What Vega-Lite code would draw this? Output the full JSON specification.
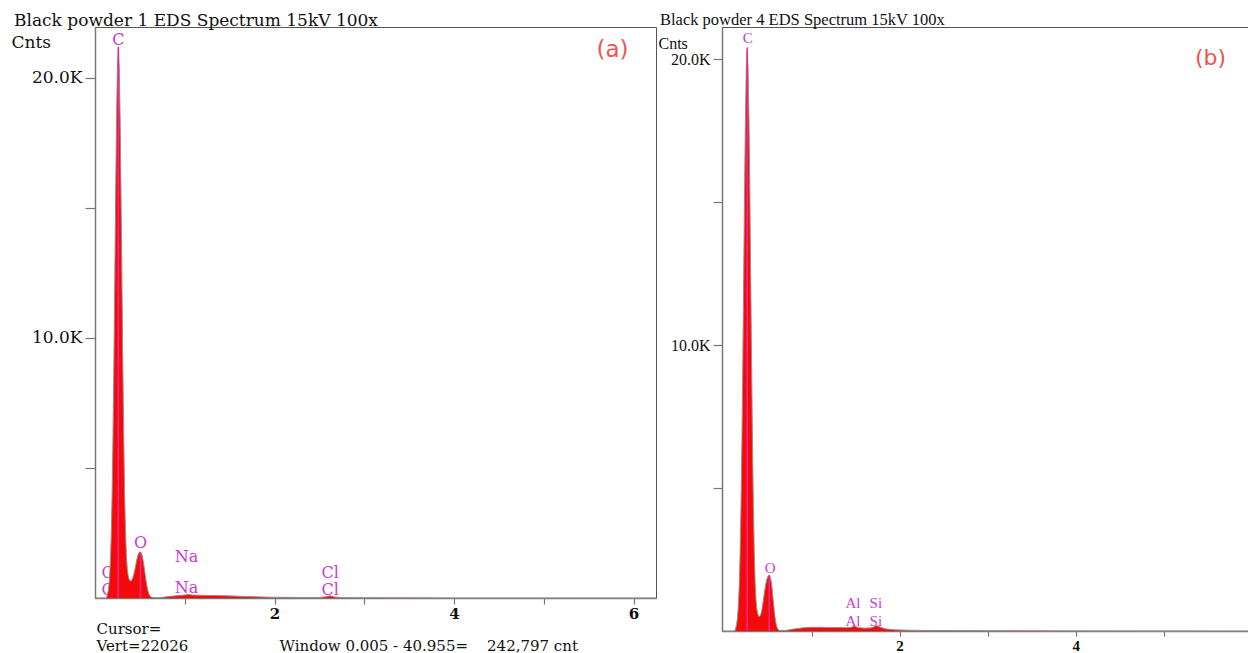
{
  "$schema": "https://vega.github.io/schema/vega-lite/v6.json",
  "background": "white",
  "padding": {"left": 10, "top": 11, "right": 0, "bottom": 0},
  "bounds": "flush",
  "spacing": 66,
  "config": {
    "view": {"stroke": "#555", "strokeWidth": 1},
    "axis": {"grid": false, "domainColor": "#777", "tickColor": "#777", "domainWidth": 1.5, "tickWidth": 1.2, "labelColor": "#111"}
  },
  "datasets": {
    "a": [
      {"energy": 0.0, "cnt": 0}, {"energy": 0.12, "cnt": 0}, {"energy": 0.13, "cnt": 30}, {"energy": 0.14, "cnt": 150},
      {"energy": 0.15, "cnt": 320}, {"energy": 0.16, "cnt": 660}, {"energy": 0.17, "cnt": 1280}, {"energy": 0.18, "cnt": 2300},
      {"energy": 0.19, "cnt": 3870}, {"energy": 0.2, "cnt": 6070}, {"energy": 0.21, "cnt": 8880}, {"energy": 0.22, "cnt": 12130},
      {"energy": 0.23, "cnt": 15450}, {"energy": 0.24, "cnt": 18370}, {"energy": 0.25, "cnt": 20380}, {"energy": 0.26, "cnt": 21100},
      {"energy": 0.27, "cnt": 20380}, {"energy": 0.28, "cnt": 18400}, {"energy": 0.29, "cnt": 15500}, {"energy": 0.3, "cnt": 12200},
      {"energy": 0.31, "cnt": 9000}, {"energy": 0.32, "cnt": 6200}, {"energy": 0.33, "cnt": 4000}, {"energy": 0.34, "cnt": 2550},
      {"energy": 0.35, "cnt": 1600}, {"energy": 0.36, "cnt": 1100}, {"energy": 0.37, "cnt": 850}, {"energy": 0.38, "cnt": 720},
      {"energy": 0.39, "cnt": 660}, {"energy": 0.4, "cnt": 650}, {"energy": 0.41, "cnt": 680}, {"energy": 0.42, "cnt": 760},
      {"energy": 0.43, "cnt": 880}, {"energy": 0.44, "cnt": 1020}, {"energy": 0.45, "cnt": 1190}, {"energy": 0.46, "cnt": 1370},
      {"energy": 0.47, "cnt": 1530}, {"energy": 0.48, "cnt": 1660}, {"energy": 0.49, "cnt": 1740}, {"energy": 0.5, "cnt": 1770},
      {"energy": 0.51, "cnt": 1760}, {"energy": 0.52, "cnt": 1690}, {"energy": 0.53, "cnt": 1560}, {"energy": 0.54, "cnt": 1370},
      {"energy": 0.55, "cnt": 1130}, {"energy": 0.56, "cnt": 880}, {"energy": 0.57, "cnt": 640}, {"energy": 0.58, "cnt": 430},
      {"energy": 0.59, "cnt": 270}, {"energy": 0.6, "cnt": 160}, {"energy": 0.61, "cnt": 90}, {"energy": 0.62, "cnt": 45},
      {"energy": 0.64, "cnt": 20}, {"energy": 0.7, "cnt": 10}, {"energy": 0.75, "cnt": 25}, {"energy": 0.8, "cnt": 45},
      {"energy": 0.85, "cnt": 65}, {"energy": 0.9, "cnt": 85}, {"energy": 0.95, "cnt": 100}, {"energy": 1.0, "cnt": 115},
      {"energy": 1.04, "cnt": 135}, {"energy": 1.08, "cnt": 115}, {"energy": 1.15, "cnt": 110}, {"energy": 1.25, "cnt": 100},
      {"energy": 1.35, "cnt": 95}, {"energy": 1.45, "cnt": 85}, {"energy": 1.55, "cnt": 75}, {"energy": 1.65, "cnt": 60},
      {"energy": 1.75, "cnt": 50}, {"energy": 1.85, "cnt": 40}, {"energy": 1.95, "cnt": 30}, {"energy": 2.1, "cnt": 25},
      {"energy": 2.3, "cnt": 20}, {"energy": 2.5, "cnt": 20}, {"energy": 2.57, "cnt": 45}, {"energy": 2.62, "cnt": 85},
      {"energy": 2.67, "cnt": 40}, {"energy": 2.75, "cnt": 15}, {"energy": 3.0, "cnt": 10}, {"energy": 3.5, "cnt": 5},
      {"energy": 4.0, "cnt": 3}, {"energy": 5.0, "cnt": 2}, {"energy": 6.25, "cnt": 0}
    ],
    "b": [
      {"energy": 0.0, "cnt": 0}, {"energy": 0.13, "cnt": 0}, {"energy": 0.14, "cnt": 100}, {"energy": 0.15, "cnt": 225},
      {"energy": 0.16, "cnt": 463}, {"energy": 0.17, "cnt": 890}, {"energy": 0.18, "cnt": 1615}, {"energy": 0.19, "cnt": 2750},
      {"energy": 0.2, "cnt": 4390}, {"energy": 0.21, "cnt": 6590}, {"energy": 0.22, "cnt": 9290}, {"energy": 0.23, "cnt": 12310},
      {"energy": 0.24, "cnt": 15320}, {"energy": 0.25, "cnt": 17910}, {"energy": 0.26, "cnt": 19680}, {"energy": 0.27, "cnt": 20300},
      {"energy": 0.28, "cnt": 19680}, {"energy": 0.29, "cnt": 17910}, {"energy": 0.3, "cnt": 15320}, {"energy": 0.31, "cnt": 12310},
      {"energy": 0.32, "cnt": 9290}, {"energy": 0.33, "cnt": 6590}, {"energy": 0.34, "cnt": 4390}, {"energy": 0.35, "cnt": 2800},
      {"energy": 0.36, "cnt": 1700}, {"energy": 0.37, "cnt": 1080}, {"energy": 0.38, "cnt": 760}, {"energy": 0.39, "cnt": 590},
      {"energy": 0.4, "cnt": 520}, {"energy": 0.41, "cnt": 500}, {"energy": 0.42, "cnt": 540}, {"energy": 0.43, "cnt": 640},
      {"energy": 0.44, "cnt": 800}, {"energy": 0.45, "cnt": 1000}, {"energy": 0.46, "cnt": 1220}, {"energy": 0.47, "cnt": 1430},
      {"energy": 0.48, "cnt": 1620}, {"energy": 0.49, "cnt": 1770}, {"energy": 0.5, "cnt": 1870}, {"energy": 0.51, "cnt": 1930},
      {"energy": 0.52, "cnt": 1950}, {"energy": 0.53, "cnt": 1900}, {"energy": 0.54, "cnt": 1780}, {"energy": 0.55, "cnt": 1560},
      {"energy": 0.56, "cnt": 1260}, {"energy": 0.57, "cnt": 930}, {"energy": 0.58, "cnt": 630}, {"energy": 0.59, "cnt": 390},
      {"energy": 0.6, "cnt": 220}, {"energy": 0.61, "cnt": 110}, {"energy": 0.62, "cnt": 50}, {"energy": 0.64, "cnt": 15},
      {"energy": 0.7, "cnt": 15}, {"energy": 0.75, "cnt": 40}, {"energy": 0.8, "cnt": 70}, {"energy": 0.85, "cnt": 90},
      {"energy": 0.9, "cnt": 110}, {"energy": 0.95, "cnt": 120}, {"energy": 1.0, "cnt": 130}, {"energy": 1.1, "cnt": 130},
      {"energy": 1.2, "cnt": 125}, {"energy": 1.3, "cnt": 120}, {"energy": 1.4, "cnt": 115}, {"energy": 1.45, "cnt": 130},
      {"energy": 1.49, "cnt": 170}, {"energy": 1.53, "cnt": 120}, {"energy": 1.6, "cnt": 100}, {"energy": 1.68, "cnt": 110},
      {"energy": 1.74, "cnt": 190}, {"energy": 1.8, "cnt": 110}, {"energy": 1.85, "cnt": 70}, {"energy": 1.95, "cnt": 40},
      {"energy": 2.1, "cnt": 25}, {"energy": 2.3, "cnt": 20}, {"energy": 2.6, "cnt": 15}, {"energy": 3.0, "cnt": 10},
      {"energy": 3.5, "cnt": 5}, {"energy": 4.5, "cnt": 3}, {"energy": 5.96, "cnt": 0}
    ],
    "la": [
      {"energy": 0.26, "cnt": 21460, "label": "C"},
      {"energy": 0.507, "cnt": 2120, "label": "O"},
      {"energy": 1.02, "cnt": 1580, "label": "Na"},
      {"energy": 1.02, "cnt": 380, "label": "Na"},
      {"energy": 2.62, "cnt": 960, "label": "Cl"},
      {"energy": 2.62, "cnt": 310, "label": "Cl"},
      {"energy": 0.17, "cnt": 960, "label": "Cl"},
      {"energy": 0.17, "cnt": 310, "label": "Cl"}
    ],
    "lb": [
      {"energy": 0.277, "cnt": 20730, "label": "C"},
      {"energy": 0.53, "cnt": 2200, "label": "O"},
      {"energy": 1.47, "cnt": 980, "label": "Al"},
      {"energy": 1.47, "cnt": 350, "label": "Al"},
      {"energy": 1.73, "cnt": 980, "label": "Si"},
      {"energy": 1.73, "cnt": 350, "label": "Si"}
    ],
    "ma": [{"energy": 0.26, "cnt": 21200, "base": 0}, {"energy": 0.507, "cnt": 1770, "base": 0}],
    "mb": [{"energy": 0.27, "cnt": 20400, "base": 0}, {"energy": 0.52, "cnt": 1950, "base": 0}],
    "na": [
      {"energy": 5.766, "cnt": 21080, "note": "(a)"}
    ],
    "nc": [
      {"energy": 0.017, "cnt": -1210, "note": "Cursor="},
      {"energy": 0.017, "cnt": -1840, "note": "Vert=22026"},
      {"energy": 2.056, "cnt": -1840, "note": "Window 0.005 - 40.955=\u00a0\u00a0\u00a0\u00a0242,797 cnt"}
    ],
    "nb": [
      {"energy": 5.53, "cnt": 20030, "note": "(b)"}
    ]
  },
  "hconcat": [
    {
      "width": 561,
      "height": 571,
      "title": {"text": "Black powder 1 EDS Spectrum 15kV 100x", "anchor": "start", "frame": "group", "dx": -81, "offset": -20, "baseline": "bottom", "font": "DejaVu Serif", "fontSize": 17, "fontWeight": "normal", "color": "#111"},
      "encoding": {
        "x": {"field": "energy", "type": "quantitative", "scale": {"domain": [0, 6.25], "nice": false, "zero": false},
          "axis": {"title": null, "values": [1, 2, 3, 4, 5, 6], "labelExpr": "datum.value % 2 == 0 ? datum.label : ''", "tickSize": 6, "labelPadding": 2, "labelFont": "DejaVu Serif", "labelFontSize": 15, "labelFontWeight": "bold"}},
        "y": {"field": "cnt", "type": "quantitative", "scale": {"domain": [0, 21960], "nice": false},
          "axis": {"title": "Cnts", "titleAngle": 0, "titleX": -84, "titleY": 15, "titleAlign": "left", "titleBaseline": "middle", "titleFont": "DejaVu Serif", "titleFontSize": 17, "titleFontWeight": "normal", "titleColor": "#111",
            "values": [5000, 10000, 15000, 20000], "labelExpr": "datum.value % 10000 == 0 ? format(datum.value / 1000, '.1f') + 'K' : ''", "tickSize": 10, "labelPadding": 3, "labelFont": "DejaVu Serif", "labelFontSize": 17}}
      },
      "layer": [
        {"data": {"name": "la"}, "transform": [{"filter": "datum.energy < 0.2"}],
          "mark": {"type": "text", "font": "DejaVu Serif", "fontSize": 16, "color": "#c83cd4", "baseline": "middle", "align": "center"},
          "encoding": {"text": {"field": "label", "type": "nominal"}}},
        {"data": {"name": "a"}, "mark": {"type": "area", "color": "#f50a0a", "opacity": 1}},
        {"data": {"name": "a"}, "mark": {"type": "line", "color": "#9c8c88", "strokeWidth": 1}},
        {"data": {"name": "ma"}, "mark": {"type": "rule", "color": "#ee2a90", "strokeWidth": 1.5},
          "encoding": {"y2": {"field": "base"}}},
        {"data": {"name": "la"}, "transform": [{"filter": "datum.energy >= 0.2"}],
          "mark": {"type": "text", "font": "DejaVu Serif", "fontSize": 16, "color": "#c83cd4", "baseline": "middle", "align": "center"},
          "encoding": {"text": {"field": "label", "type": "nominal"}}},
        {"data": {"name": "na"}, "mark": {"type": "text", "font": "DejaVu Sans", "fontSize": 23, "color": "#ee5550", "baseline": "middle", "align": "center"},
          "encoding": {"text": {"field": "note", "type": "nominal"}}},
        {"data": {"name": "nc"}, "mark": {"type": "text", "font": "DejaVu Serif", "fontSize": 15, "color": "#111", "baseline": "middle", "align": "left"},
          "encoding": {"text": {"field": "note", "type": "nominal"}}}
      ]
    },
    {
      "width": 527,
      "height": 604,
      "title": {"text": "Black powder 4 EDS Spectrum 15kV 100x", "anchor": "start", "frame": "group", "dx": -62, "offset": -17, "baseline": "bottom", "font": "Liberation Serif", "fontSize": 16.5, "fontWeight": "normal", "color": "#111"},
      "encoding": {
        "x": {"field": "energy", "type": "quantitative", "scale": {"domain": [-0.016, 5.966], "nice": false, "zero": false},
          "axis": {"title": null, "values": [1, 2, 3, 4, 5, 6], "labelExpr": "datum.value % 2 == 0 ? datum.label : ''", "tickSize": 5, "labelPadding": 2, "labelFont": "Liberation Serif", "labelFontSize": 15, "labelFontWeight": "bold"}},
        "y": {"field": "cnt", "type": "quantitative", "scale": {"domain": [0, 21120], "nice": false},
          "axis": {"title": "Cnts", "titleAngle": 0, "titleX": -64, "titleY": 16, "titleAlign": "left", "titleBaseline": "middle", "titleFont": "Liberation Serif", "titleFontSize": 16, "titleFontWeight": "normal", "titleColor": "#111",
            "values": [5000, 10000, 15000, 20000], "labelExpr": "datum.value % 10000 == 0 ? format(datum.value / 1000, '.1f') + 'K' : ''", "tickSize": 9, "labelPadding": 3, "labelFont": "Liberation Serif", "labelFontSize": 16}}
      },
      "layer": [
        {"data": {"name": "b"}, "mark": {"type": "area", "color": "#f50a0a", "opacity": 1}},
        {"data": {"name": "b"}, "mark": {"type": "line", "color": "#9c8c88", "strokeWidth": 1}},
        {"data": {"name": "mb"}, "mark": {"type": "rule", "color": "#ee2a90", "strokeWidth": 1.5},
          "encoding": {"y2": {"field": "base"}}},
        {"data": {"name": "lb"},
          "mark": {"type": "text", "font": "Liberation Serif", "fontSize": 15, "color": "#c83cd4", "baseline": "middle", "align": "center"},
          "encoding": {"text": {"field": "label", "type": "nominal"}}},
        {"data": {"name": "nb"}, "mark": {"type": "text", "font": "DejaVu Sans", "fontSize": 22, "color": "#ee5550", "baseline": "middle", "align": "center"},
          "encoding": {"text": {"field": "note", "type": "nominal"}}}
      ]
    }
  ]
}
